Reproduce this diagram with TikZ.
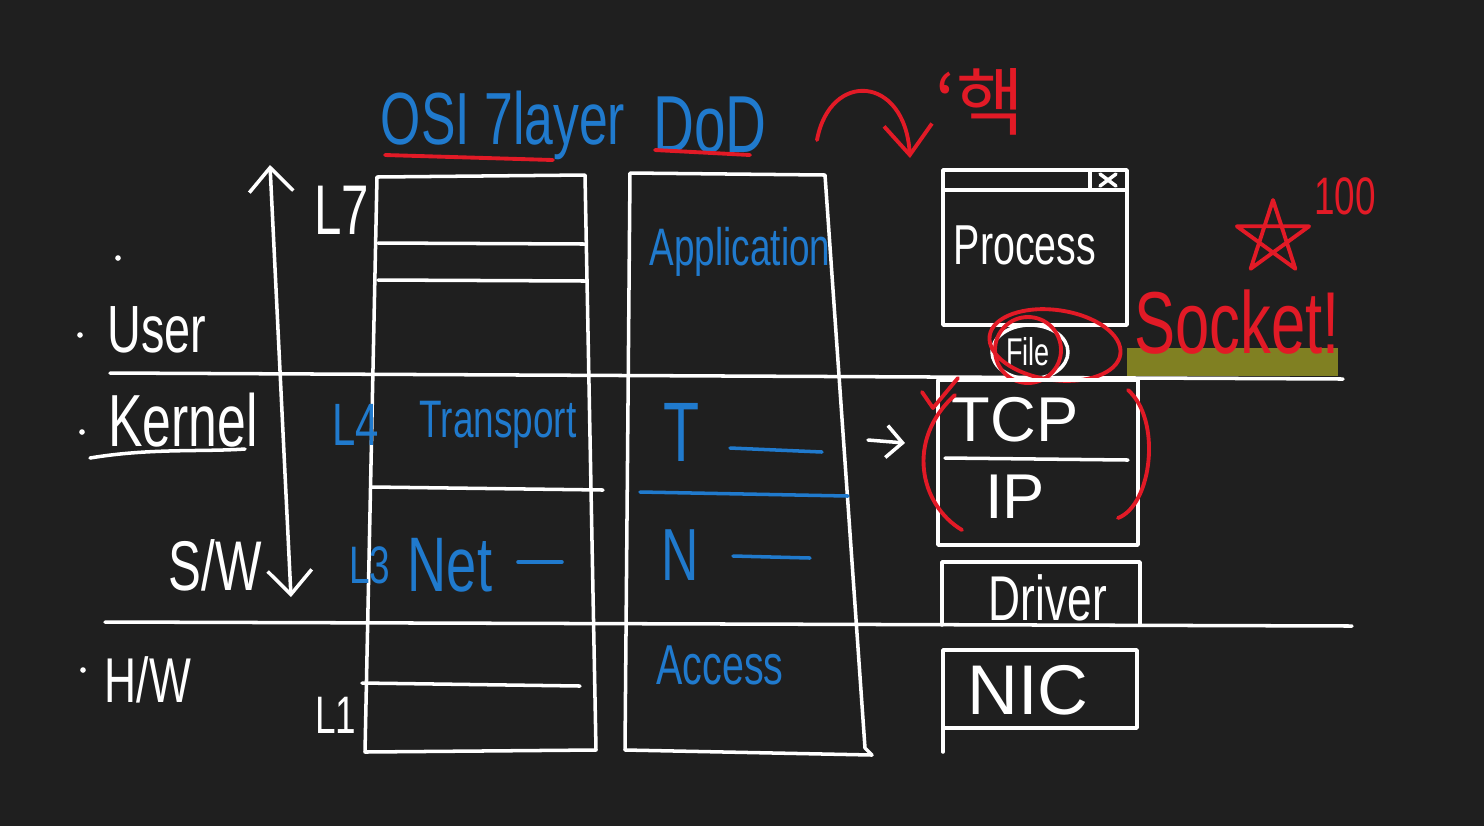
\documentclass[tikz,border=0pt]{standalone}
\usepackage{fontspec}
\setmainfont{Liberation Sans}
\newfontfamily\hand[FakeStretch=0.7]{Liberation Sans}
\newfontfamily\krfont{Noto Sans CJK KR}
\usetikzlibrary{arrows.meta,positioning}
\definecolor{board}{RGB}{31,31,31}
\definecolor{penblue}{RGB}{32,122,205}
\definecolor{penred}{RGB}{226,26,38}
\definecolor{marker}{RGB}{128,128,34}
\newcommand{\fsz}[1]{\fontsize{#1}{#1}\selectfont}
\tikzset{
  chalk/.style={draw=white, line width=1pt, line cap=round, line join=round},
  blueink/.style={draw=penblue, line width=1pt, line cap=round},
  redink/.style={draw=penred, line width=1.1pt, line cap=round, line join=round},
  wtext/.style={text=white, inner sep=0pt},
  btext/.style={text=penblue, inner sep=0pt},
  rtext/.style={text=penred, inner sep=0pt},
  dot/.style={fill=white, circle, inner sep=0pt, minimum size=1.6pt}
}

\begin{document}
\begin{tikzpicture}[x=0.01cm, y=-0.01cm]
  \fill[board] (0,0) rectangle (1484,826);
  \useasboundingbox (0,0) rectangle (1484,826);

  % titles
  \node[btext, font=\hand\fsz{21}] (osi) at (503,125) {OSI 7layer};
  \node[btext, font=\hand\fsz{23}] (dod) at (710,125) {DoD};
  \draw[redink] (385,155) -- (553,160);
  \draw[redink] (655,150) -- (750,155);
  \node[rtext, font=\krfont\fsz{21}] (core) at (980,102) {‘핵};
  \coordinate (bend0) at (817,140);
  \coordinate (bend1) at (910,158);
  \draw[redink, -{Straight Barb[length=3mm,width=4.8mm]}] (bend0) .. controls (830,70) and (905,75) .. (bend1);

  % user / kernel / hardware split
  \draw[chalk] (110,373) -- (1343,379);
  \draw[chalk] (105,622) -- (1352,626);
  \node[dot] (d0) at (118,258) {};
  \node[dot] (d1) at (80,335) {};
  \node[dot] (d2) at (82,432) {};
  \node[dot] (d3) at (83,670) {};
  \node[wtext, font=\hand\fsz{19}] (user) at (157,330) {User};
  \node[wtext, font=\hand\fsz{21}] (kernel) at (183,420) {Kernel};
  \draw[chalk] (90,458) .. controls (150,448) and (200,452) .. (245,449);
  \node[wtext, font=\hand\fsz{20}] (sw) at (215,565) {S/W};
  \node[wtext, font=\hand\fsz{18}] (hw) at (148,680) {H/W};
  \coordinate (up) at (270,165);
  \coordinate (dn) at (291,597);
  \draw[chalk, {Straight Barb[length=2.4mm,width=4.4mm]}-{Straight Barb[length=2.4mm,width=4.4mm]}] (up) -- (dn);

  % OSI column
  \draw[chalk] (377,177) -- (585,175) -- (596,750) -- (365,752) -- cycle;
  \draw[chalk] (378,243) -- (585,244);
  \draw[chalk] (378,280) -- (586,281);
  \draw[chalk] (372,487) -- (603,490);
  \draw[chalk] (362,683) -- (580,686);
  \node[wtext, font=\hand\fsz{20}] (l7) at (342,210) {L7};
  \node[btext, font=\hand\fsz{17}] (l4) at (356,425) {L4};
  \node[btext, font=\hand\fsz{15}] (l3) at (370,565) {L3};
  \node[wtext, font=\hand\fsz{15}] (l1) at (336,715) {L1};
  \node[btext, font=\hand\fsz{15}] (trans) at (498,425) {Transport};
  \node[btext, font=\hand\fsz{22}] (net) at (450,565) {Net};
  \draw[blueink] (518,562) -- (562,562);

  % DoD column
  \draw[chalk] (630,173) -- (825,175) -- (865,748) -- (872,755) -- (625,750) -- cycle;
  \draw[blueink] (640,492) -- (848,496);
  \node[btext, font=\hand\fsz{15}] (app) at (740,252) {Application};
  \node[btext, font=\hand\fsz{24}] (tl) at (682,432) {T};
  \draw[blueink] (730,448) -- (822,452);
  \node[btext, font=\hand\fsz{21}] (nl) at (680,555) {N};
  \draw[blueink] (733,556) -- (810,558);
  \node[btext, font=\hand\fsz{16}] (acc) at (720,665) {Access};

  % real stack
  \coordinate (arr0) at (868,440);
  \coordinate (arr1) at (905,443);
  \draw[chalk, -{Straight Barb[length=1.6mm,width=3.2mm]}] (arr0) -- (arr1);
  \draw[chalk] (943,170) rectangle (1127,325);
  \draw[chalk] (943,190) -- (1127,190);
  \draw[chalk] (1090,170) -- (1090,190);
  \draw[chalk] (1100,174) -- (1116,186);
  \draw[chalk] (1116,174) -- (1100,186);
  \node[wtext, font=\hand\fsz{16}] (proc) at (1025,245) {Process};
  \draw[chalk] (1030,352) ellipse [x radius=38, y radius=27];
  \node[wtext, font=\hand\fsz{11}] (file) at (1028,352) {File};
  \draw[redink] (1028,350) circle [radius=33];
  \draw[redink, rotate around={-8:(1055,345)}] (1055,345) ellipse [x radius=66, y radius=35];

  \draw[chalk] (938,380) rectangle (1138,545);
  \draw[chalk] (945,458) -- (1128,460);
  \node[wtext, font=\fsz{18}] (tcp) at (1015,420) {TCP};
  \node[wtext, font=\fsz{18}] (ip) at (1015,497) {IP};
  \draw[redink] (955,395) .. controls (905,440) and (920,505) .. (962,530);
  \draw[redink] (1128,390) .. controls (1162,420) and (1152,505) .. (1118,518);
  \draw[redink] (922,392) -- (933,408) -- (958,378);

  \draw[chalk] (942,625) -- (942,562) -- (1140,562) -- (1140,625);
  \node[wtext, font=\hand\fsz{18}] (drv) at (1048,598) {Driver};
  \draw[chalk] (943,752) -- (943,650) -- (1137,650) -- (1137,728) -- (943,728);
  \node[wtext, font=\fsz{20}] (nic) at (1028,690) {NIC};

  % socket note
  \fill[marker] (1127,348) rectangle (1338,376);
  \node[rtext, font=\hand\fsz{25}] (sock) at (1237,322) {Socket!};
  \begin{scope}[shift={(1273,238)}]
    \draw[redink] (-90:38) -- (54:38) -- (198:38) -- (-18:38) -- (126:38) -- cycle;
  \end{scope}
  \node[rtext, font=\hand\fsz{15}] (hund) at (1345,196) {100};
\end{tikzpicture}
\end{document}
